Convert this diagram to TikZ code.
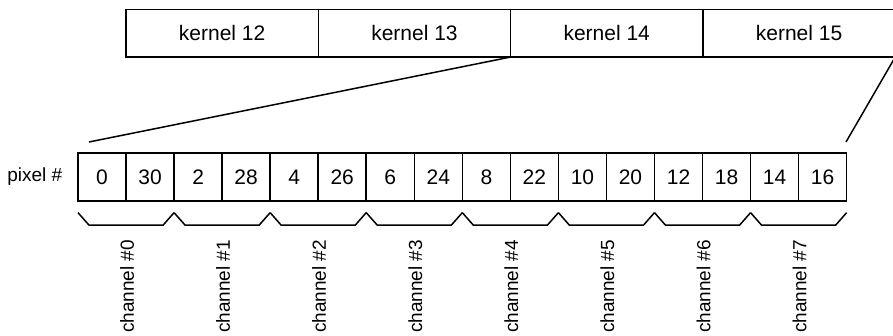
\documentclass[tikz,border=0pt]{standalone}
\usepackage{fontspec}
\setmainfont{Liberation Sans}
\usetikzlibrary{calc}
\begin{document}
\begin{tikzpicture}[x=1pt,y=-1pt, line width=1.5pt,
  kbox/.style={draw, minimum width=192.3pt, minimum height=47.5pt, inner sep=0pt, outer sep=0pt, font=\fontsize{21}{24}\selectfont},
  pbox/.style={draw, minimum width=48.04pt, minimum height=48.3pt, inner sep=0pt, outer sep=0pt, font=\fontsize{21}{24}\selectfont},
  lbl/.style={font=\fontsize{19}{22}\selectfont, inner sep=0pt},
  brace/.style={draw, line join=miter}]
\useasboundingbox (0,0) rectangle (893,336);
\foreach \i/\t in {0/12,1/13,2/14,3/15}
  \node[kbox] (k\t) at ({126+192.3*(\i+0.5)}, 33.3) {kernel \t};
\foreach \v [count=\i from 0] in {0,30,2,28,4,26,6,24,8,22,10,20,12,18,14,16}
  \node[pbox] (p\i) at ({78+48.04*(\i+0.5)}, 177) {\v};
\node[lbl, anchor=east] (pix) at ($(p0.west)+(-15,0)$) {pixel \#};
\coordinate (a) at (89,142);
\coordinate (b) at (846,142);
\draw (k14.south west) -- (a);
\draw (k15.south east) -- (b);
\foreach \c in {0,...,7} {
  \pgfmathtruncatemacro\ca{2*\c}
  \pgfmathtruncatemacro\cb{2*\c+1}
  \draw[brace] ($(p\ca.south west)+(0,11.5)$) -- ($(p\ca.south west)+(11,24)$) -- ($(p\cb.south east)+(-11,24)$) -- ($(p\cb.south east)+(0,11.5)$);
  \node[lbl, rotate=90, anchor=east] (ch\c) at ($(p\ca.south east)+(1,38)$) {channel \#\c};
}
\end{tikzpicture}
\end{document}
